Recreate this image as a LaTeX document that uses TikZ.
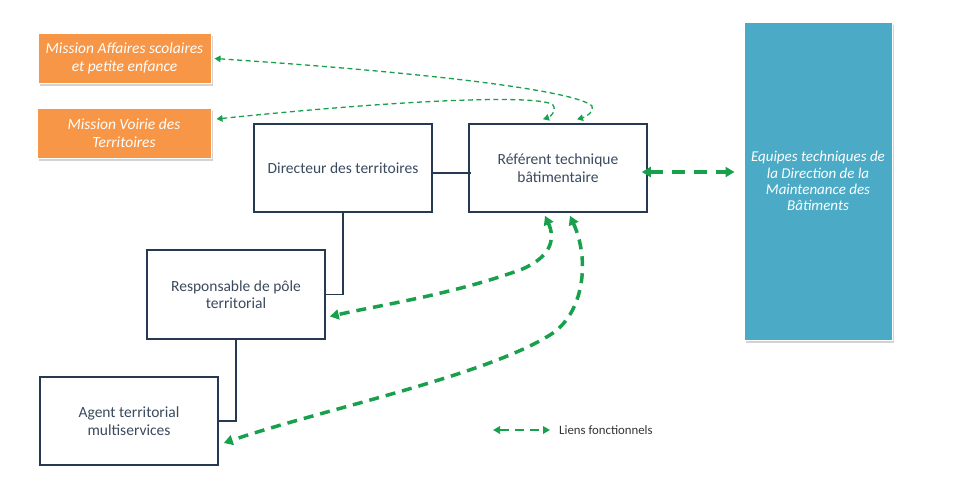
\documentclass[tikz,border=0pt]{standalone}
\usepackage{fontspec}
\setmainfont{Carlito}
\usetikzlibrary{arrows.meta,shadows}
\definecolor{navy}{RGB}{38,56,82}
\definecolor{boxtext}{RGB}{59,74,94}
\definecolor{orangebox}{RGB}{247,150,70}
\definecolor{bluebox}{RGB}{75,170,198}
\definecolor{greenline}{RGB}{24,160,76}
\begin{document}
\begin{tikzpicture}[x=1pt,y=-1pt,
  orgbox/.style={draw=navy, line width=1.6pt, fill=white, text=boxtext, align=center,
    minimum width=178pt, minimum height=88pt, inner sep=2pt,
    font=\fontsize{15.5}{17.5}\selectfont},
  missionbox/.style={draw=white, line width=1pt, fill=orangebox, text=white, align=center,
    minimum width=173pt, minimum height=50pt, inner sep=2pt,
    font=\fontsize{15.5}{17.5}\selectfont\itshape,
    drop shadow={shadow xshift=1.5pt, shadow yshift=-2.5pt, opacity=0.35}},
  dmbbox/.style={draw=white, line width=1pt, fill=bluebox, text=white, align=center,
    minimum width=148pt, minimum height=318pt, inner sep=2pt,
    font=\fontsize{15}{16.2}\selectfont\itshape,
    drop shadow={shadow xshift=1.5pt, shadow yshift=-2.5pt, opacity=0.35}},
  hier/.style={draw=navy, line width=1.6pt},
  thinlink/.style={draw=greenline, line width=1.3pt, dash pattern=on 5pt off 3.5pt,
    {Triangle[length=6pt,width=6.5pt]}-{Triangle[length=6pt,width=6.5pt]}},
  thicklink/.style={draw=greenline, line width=3.5pt, dash pattern=on 10pt off 7pt,
    {Triangle[length=9pt,width=10pt]}-{Triangle[length=9pt,width=10pt]}},
]
\useasboundingbox (0,0) rectangle (971,482);

\node[missionbox] (o1) at (124.5,58.5) {Mission Affaires scolaires\\et petite enfance};
\node[missionbox, minimum width=174pt] (o2) at (124,133) {Mission Voirie des\\Territoires};
\node[dmbbox] (dmb) at (818,181) {Equipes techniques de\\la Direction de la\\Maintenance des\\Bâtiments};

\node[orgbox] (dir) at (343,168) {Directeur des territoires};
\node[orgbox] (ref) at (558,168) {Référent technique\\bâtimentaire};
\node[orgbox, minimum height=89pt] (resp) at (236,294.5) {Responsable de pôle\\territorial};
\node[orgbox] (agent) at (129,421) {Agent territorial\\multiservices};

\draw[hier] ([yshift=-5pt]dir.east) -- ([yshift=-5pt,xshift=3pt]ref.west);
\draw[hier] (dir.south) |- (resp.east);
\draw[hier] (resp.south) |- (agent.east);

% thin functional links to missions
\draw[thinlink] ([xshift=3pt]o1.east) .. controls (420,72) and (575,90) .. (592,106)
  .. controls (595,111) and (586,117) .. ([xshift=19pt,yshift=4pt]ref.north);
\draw[thinlink] ([xshift=5pt,yshift=14pt]o2.east) .. controls (400,100) and (540,94) .. (553,105)
  .. controls (557,111) and (550,117) .. ([xshift=-15pt,yshift=4pt]ref.north);

% thick functional links
\coordinate (dmbl) at ([xshift=-9pt]dmb.west |- 0,172);
\draw[greenline, line width=3.5pt, dash pattern=on 13pt off 9pt,
  {Triangle[length=9pt,width=10pt]}-{Triangle[length=9pt,width=10pt]}]
  ([xshift=-6pt,yshift=-4pt]ref.east) -- (dmbl);
\draw[thicklink] ([xshift=-13pt,yshift=-3pt]ref.south) .. controls (556,240) and (550,258) .. (520,270)
  .. controls (450,295) and (380,305) .. ([xshift=4pt,yshift=-22pt]resp.east);
\draw[thicklink] ([xshift=12pt,yshift=-3pt]ref.south) .. controls (590,260) and (584,311) .. (553,333)
  .. controls (490,375) and (320,410) .. ([xshift=5pt,yshift=-22pt]agent.east);

% legend
\coordinate (lg1) at (493,430);
\coordinate (lg2) at (550,430);
\draw[greenline, line width=2.5pt, dash pattern=on 9pt off 6pt,
  {Triangle[length=7pt,width=7.5pt]}-{Triangle[length=7pt,width=7.5pt]}] (lg1) -- (lg2);
\node[anchor=west, text=black!80, font=\fontsize{12.8}{14}\selectfont, inner sep=0pt] (lgt) at (559,430) {Liens fonctionnels};
\end{tikzpicture}
\end{document}
